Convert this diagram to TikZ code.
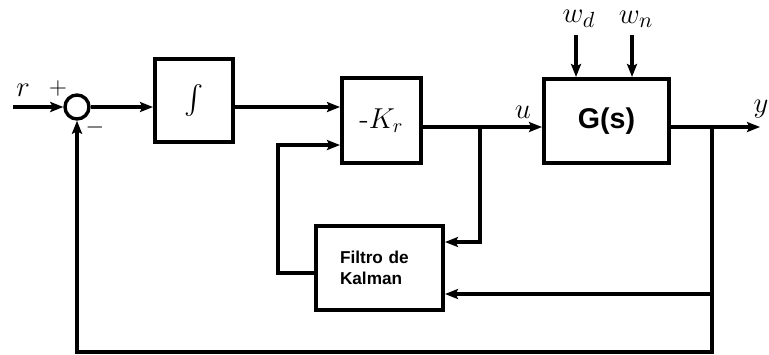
\documentclass[tikz,border=0pt]{standalone}
\usepackage{amsmath}
\usepackage{fontspec}
\setsansfont{Liberation Sans}
\usetikzlibrary{arrows.meta}
\begin{document}
\begin{tikzpicture}[x=0.5pt, y=-0.5pt, line width=1.7pt, >={Stealth[length=6.5pt, width=5pt, inset=1.2pt]},
  blk/.style={draw, line width=2pt, fill=white, inner sep=0pt, align=center},
  lbl/.style={font=\fontsize{15}{17}\selectfont, inner sep=0pt}]
\useasboundingbox (0,0) rectangle (769,354);
% blocks
\node[draw, circle, line width=1.7pt, minimum size=12pt, inner sep=0pt] (sum) at (77,107) {};
\node[blk, minimum width=39pt, minimum height=41.5pt] (integ) at (194,100.5) {};
\node[font=\fontsize{15}{17}\selectfont, inner sep=0pt] (intsym) at (194,100) {$\int$};
\node[blk, minimum width=39.5pt, minimum height=42.5pt, font=\fontsize{14.5}{16}\selectfont] (kr) at (381.5,120.5) {-$K_r$};
\node[blk, minimum width=62.5pt, minimum height=42pt, font=\sffamily\bfseries\fontsize{14.3}{16}\selectfont] (plant) at (606.5,121) {G(s)};
\node[blk, minimum width=63.5pt, minimum height=42pt, text width=39.5pt, align=left, font=\sffamily\bfseries\fontsize{8.6}{10.5}\selectfont] (kalman) at (379.5,268) {Filtro de\\Kalman};
% connection points
\coordinate (rin) at (13,107);
\coordinate (ju) at (480,127);
\coordinate (jy) at (712,127);
\coordinate (yout) at (760,127);
\coordinate (ku) at (480,242);
\coordinate (ky) at (712,294);
\coordinate (kx) at (278,273);
\coordinate (kt) at (278,145);
\coordinate (fb) at (712,352);
\coordinate (wd) at (576,35);
\coordinate (wn) at (632,35);
% signals
\draw[->] (rin) -- (sum.west);
\draw[->] (sum.east) -- (sum.east -| integ.west);
\draw[->] (sum.east -| integ.east) -- (sum.east -| kr.west);
\draw[->] (ju -| kr.east) -- (ju -| plant.west);
\draw[->] (ju) -- (ku) -- (ku -| kalman.east);
\draw[->] (ju -| plant.east) -- (yout);
\draw[->] (jy) -- (ky) -- (ky -| kalman.east);
\draw[->] (ky) -- (fb) -| (sum.south);
\draw[->] (kx -| kalman.west) -- (kx) -- (kt) -- (kt -| kr.west);
\draw[->] (wd) -- (wd |- plant.north);
\draw[->] (wn) -- (wn |- plant.north);
% labels
\node[lbl] (rlbl) at (23,90) {$r$};
\node[lbl, font=\fontsize{12}{14}\selectfont] (plus) at (58,88) {$+$};
\node[lbl, font=\fontsize{12}{14}\selectfont] (minus) at (95,127) {$-$};
\node[lbl] (ulbl) at (523,112) {$u$};
\node[lbl] (ylbl) at (761,109) {$y$};
\node[lbl, font=\fontsize{15.5}{17}\selectfont] (wdlbl) at (579,19) {$w_d$};
\node[lbl, font=\fontsize{15.5}{17}\selectfont] (wnlbl) at (636,19) {$w_n$};
\end{tikzpicture}
\end{document}
